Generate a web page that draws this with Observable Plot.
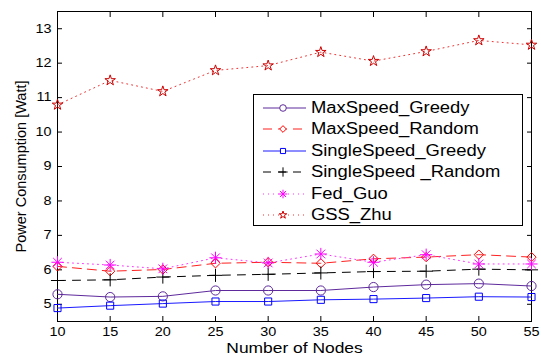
<!DOCTYPE html>
<html><head><meta charset="utf-8">
<script src="https://cdn.jsdelivr.net/npm/d3@7"></script>
<script src="https://cdn.jsdelivr.net/npm/@observablehq/plot@0.6"></script>
<style>
body{margin:0;background:#fff;}
#chart{position:relative;width:541px;height:354px;font-family:"Liberation Sans",Arial,Helvetica,sans-serif;}
#legend{position:absolute;left:253px;top:94px;width:268px;height:130px;border:1px solid #000;background:#fff;}
.item{position:absolute;left:0;width:268px;height:22px;}
.item svg{position:absolute;left:0;top:0;}
.item span{position:absolute;left:57px;top:1px;font-size:16px;line-height:20px;white-space:pre;transform:scaleX(1.15);transform-origin:left center;color:#000;}
</style></head>
<body><div id="chart"></div>
<script>
const nodes = [10, 15, 20, 25, 30, 35, 40, 45, 50, 55];
const maxSpeedGreedy    = [5.29, 5.21, 5.23, 5.40, 5.40, 5.40, 5.50, 5.57, 5.60, 5.53];
const maxSpeedRandom    = [6.10, 5.96, 6.01, 6.19, 6.22, 6.19, 6.32, 6.37, 6.44, 6.37];
const singleSpeedGreedy = [4.89, 4.96, 5.02, 5.08, 5.08, 5.13, 5.15, 5.18, 5.22, 5.21];
const singleSpeedRandom = [5.69, 5.71, 5.79, 5.84, 5.87, 5.91, 5.95, 5.96, 6.02, 6.00];
const fedGuo            = [6.22, 6.14, 6.03, 6.35, 6.20, 6.46, 6.22, 6.44, 6.17, 6.17];
const gssZhu            = [10.79, 11.50, 11.18, 11.79, 11.93, 12.32, 12.06, 12.34, 12.66, 12.53];
const seriesNames = ["MaxSpeed_Greedy", "MaxSpeed_Random", "SingleSpeed_Greedy", "SingleSpeed _Random", "Fed_Guo", "GSS_Zhu"];
const xTicks = [10, 15, 20, 25, 30, 35, 40, 45, 50, 55];
const yTicks = [5, 6, 7, 8, 9, 10, 11, 12, 13];
const xLabel = "Number of Nodes";
const yLabel = "Power Consumption [Watt]";

// styles
const seriesValues = [maxSpeedGreedy, maxSpeedRandom, singleSpeedGreedy, singleSpeedRandom, fedGuo, gssZhu];
const lineColors   = ["#5e2a9c", "#ff2020", "#1a1aff", "#000000", "#ff33ff", "#f03030"];
const markColors   = ["#5e2a9c", "#ff0000", "#0000ff", "#000000", "#ff00ff", "#cc0000"];
const lineDash     = [null, "9,6", null, "8,7", "1,4", "1,4"];
const markSymbols  = [["circle"], ["diamond2"], ["square"], ["plus"], ["plus", "times"], ["star"]];
const markR        = [4.6, 4.2, 4.0, 4.3, 4.0, 3.3];

const rows = seriesNames.flatMap((s, i) => nodes.map((x, j) => ({series: s, x, y: seriesValues[i][j]})));

const marks = [
  Plot.frame({stroke: "#000", strokeWidth: 1}),
  Plot.axisX(xTicks, {anchor: "bottom", tickSize: -5, text: null, label: null}),
  Plot.axisX(xTicks, {anchor: "top", tickSize: -5, text: null, label: null}),
  Plot.axisY(yTicks, {anchor: "left", tickSize: -5, text: null, label: null}),
  Plot.axisY(yTicks, {anchor: "right", tickSize: -5, text: null, label: null}),
  Plot.axisX(xTicks, {anchor: "bottom", tickSize: 0, tickPadding: 6, fontSize: 12, label: xLabel, labelAnchor: "center", labelArrow: "none", labelOffset: 31}),
  Plot.axisY(yTicks, {anchor: "left", tickSize: 0, tickPadding: 6, fontSize: 12, label: yLabel, labelAnchor: "center", labelArrow: "none", labelOffset: 42})
];
seriesNames.forEach((s, i) => {
  const d = rows.filter(r => r.series === s);
  marks.push(Plot.line(d, {x: "x", y: "y", stroke: lineColors[i], strokeWidth: 1, strokeDasharray: lineDash[i]}));
});
seriesNames.forEach((s, i) => {
  const d = rows.filter(r => r.series === s);
  markSymbols[i].forEach(sym => {
    marks.push(Plot.dot(d, {x: "x", y: "y", symbol: sym, r: markR[i], stroke: markColors[i], fill: "none", strokeWidth: 1}));
  });
});

const chart = Plot.plot({
  width: 541, height: 354,
  marginLeft: 57, marginRight: 10, marginTop: 11, marginBottom: 33,
  x: {domain: [10, 55]},
  y: {domain: [4.5, 13.5]},
  style: {fontFamily: '"Liberation Sans", Arial, Helvetica, sans-serif', fontSize: "12px", color: "#000", background: "transparent", overflow: "visible"},
  marks
});
const host = document.getElementById("chart");
host.appendChild(chart);

// strip any arrow glyphs from axis labels
chart.querySelectorAll("g[aria-label='x-axis label'] text, g[aria-label='y-axis label'] text").forEach(t => {
  t.textContent = t.textContent.replace(/[\u2190-\u2193]/g, "").trim();
  t.style.fontSize = "14.5px";
});
// widen text horizontally to match the reference's stretched lettering
chart.querySelectorAll("g[aria-label='x-axis tick label'] text, g[aria-label='y-axis tick label'] text, g[aria-label='x-axis label'] text").forEach(t => {
  const len = t.getComputedTextLength();
  t.setAttribute("textLength", len * 1.2);
  t.setAttribute("lengthAdjust", "spacingAndGlyphs");
});

// legend inside the axes
const legend = document.createElement("div");
legend.id = "legend";
host.appendChild(legend);
seriesNames.forEach((s, i) => {
  const item = document.createElement("div");
  item.className = "item";
  item.style.top = (2 + i * 21.4) + "px";
  const ns = "http://www.w3.org/2000/svg";
  const svg = document.createElementNS(ns, "svg");
  svg.setAttribute("width", 60); svg.setAttribute("height", 22);
  const ln = document.createElementNS(ns, "line");
  ln.setAttribute("x1", 9); ln.setAttribute("x2", 52); ln.setAttribute("y1", 11); ln.setAttribute("y2", 11);
  ln.setAttribute("stroke", lineColors[i]);
  if (lineDash[i]) ln.setAttribute("stroke-dasharray", lineDash[i]);
  svg.appendChild(ln);
  const symMap = {circle: d3.symbolCircle, diamond2: d3.symbolDiamond2, square: d3.symbolSquare, plus: d3.symbolPlus, times: d3.symbolTimes, star: d3.symbolStar};
  const lr = markR[i] * 0.72;
  markSymbols[i].forEach(sym => {
    const p = document.createElementNS(ns, "path");
    p.setAttribute("d", d3.symbol(symMap[sym], Math.PI * lr * lr)());
    p.setAttribute("transform", "translate(29,11)");
    p.setAttribute("fill", "none"); p.setAttribute("stroke", markColors[i]);
    if (sym === "circle" || sym === "square" || sym === "diamond2" || sym === "star") p.setAttribute("fill", "#fff");
    svg.appendChild(p);
  });
  item.appendChild(svg);
  const sp = document.createElement("span");
  sp.textContent = s;
  item.appendChild(sp);
  legend.appendChild(item);
});
</script>
</body></html>
